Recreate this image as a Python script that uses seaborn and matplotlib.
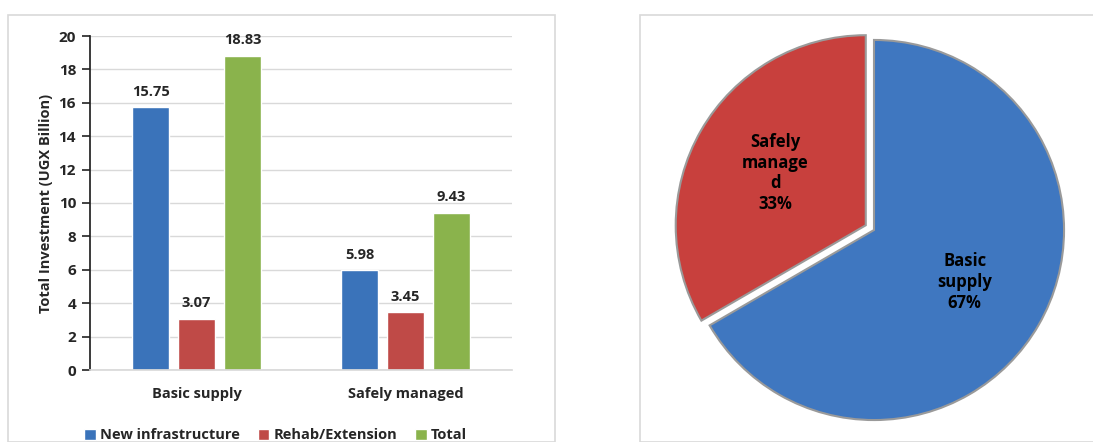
"""
Investment by service level: grouped bars + share pie.
"""

import numpy as np
import pandas as pd
import matplotlib.pyplot as plt
import seaborn as sns
from matplotlib.patches import Rectangle

sns.set_theme(style="white")
plt.rcParams["font.family"] = ["Open Sans", "DejaVu Sans"]
plt.rcParams["font.weight"] = "bold"

# ── Data ──────────────────────────────────────────────────────────────────────
categories = ["Basic supply", "Safely managed"]
series = ["New infrastructure", "Rehab/Extension", "Total"]
new_infra = [15.75, 5.98]
rehab = [3.07, 3.45]
total = [18.83, 9.43]
pie_labels = ["Basic\nsupply", "Safely\nmanage\nd"]

bar_colors = ["#3A73BA", "#BF4A47", "#8AB34C"]
pie_colors = ["#3F77C0", "#C8403D"]

df = pd.DataFrame({
    "category": np.repeat(categories, 3),
    "series": series * 2,
    "value": [v for trio in zip(new_infra, rehab, total) for v in trio],
})

fig = plt.figure(figsize=(10.93, 4.42), dpi=100)

# panel frames
fig.patches.append(Rectangle((8 / 1093, 0), 547 / 1093, 1 - 15 / 442, transform=fig.transFigure,
                             fill=False, edgecolor="#D9D9D9", linewidth=1.2))
fig.patches.append(Rectangle((640 / 1093, 0), 460 / 1093, 1 - 15 / 442, transform=fig.transFigure,
                             fill=False, edgecolor="#D9D9D9", linewidth=1.2))

# ── Bar chart ─────────────────────────────────────────────────────────────────
ax = fig.add_axes([90 / 1093, 1 - 370 / 442, 422 / 1093, 334 / 442])
sns.barplot(data=df, x="category", y="value", hue="series", palette=bar_colors,
            width=0.66, gap=0.2, saturation=1, ax=ax)
ax.set_ylim(0, 20)
ax.set_xlim(-0.51, 1.51)
ax.set_yticks(range(0, 21, 2))
ax.yaxis.grid(True, color="#D9D9D9", linewidth=1)
ax.set_axisbelow(True)
for s in ["top", "right"]:
    ax.spines[s].set_visible(False)
ax.spines["left"].set_color("#222222")
ax.spines["bottom"].set_color("#D9D9D9")
ax.tick_params(axis="y", length=6, width=1.2, color="#222222", direction="out", left=True,
               labelsize=11, pad=4)
ax.tick_params(axis="x", length=0, labelsize=10.5, pad=12)
for lbl in ax.get_xticklabels() + ax.get_yticklabels():
    lbl.set_fontweight("bold")
ax.set_xlabel("")
ax.set_ylabel("Total Investment (UGX Billion)", fontsize=10.5, fontweight="bold")

for container in ax.containers:
    ax.bar_label(container, fmt="%.2f", padding=6, fontsize=10.5, fontweight="bold")

ax.legend(loc="upper center", bbox_to_anchor=(0.44, -0.135), ncol=3, frameon=False,
          handlelength=0.8, handleheight=0.8, handletextpad=0.3, columnspacing=1.2,
          prop=dict(size=10.5, weight="bold"))

# ── Pie chart ─────────────────────────────────────────────────────────────────
pax = fig.add_axes([(874 - 210) / 1093, 1 - (230 + 210) / 442, 420 / 1093, 420 / 442])
shares = np.array(total) / sum(total) * 100
texts_in = [f"{lab}\n{p:.0f}%" for lab, p in zip(pie_labels, shares)]
wedges, texts = pax.pie(total, labels=texts_in, colors=pie_colors, startangle=90,
                        counterclock=False, explode=[0, 0.05], labeldistance=0.55,
                        wedgeprops=dict(edgecolor="#9A9A9A", linewidth=1.5),
                        textprops=dict(fontsize=12, fontweight="bold", color="black"))
for t in texts:
    t.set_horizontalalignment("center")
    t.set_verticalalignment("center")
    t.set_linespacing(1.2)
pax.set_xlim(-1.105, 1.105)
pax.set_ylim(-1.105, 1.105)
pax.set_aspect("equal")
pax.axis("off")

plt.savefig("out.png", dpi=100)
